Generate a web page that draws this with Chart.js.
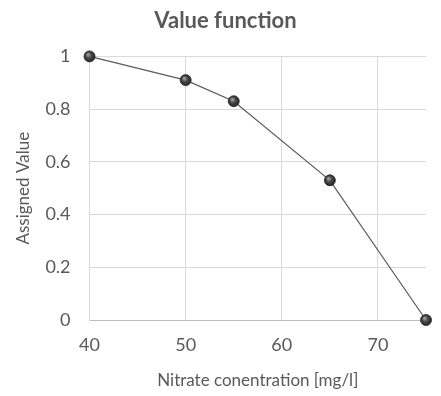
<!DOCTYPE html>
<html>
<head>
<meta charset="utf-8">
<script src="https://cdn.jsdelivr.net/npm/chart.js@4/dist/chart.umd.min.js"></script>
<style>
  html, body { margin: 0; padding: 0; background: #fff; }
  #wrap { width: 441px; height: 396px; }
</style>
</head>
<body>
<div id="wrap"><canvas id="c" width="441" height="396"></canvas></div>
<script>
// Nitrate concentration (mg/l) and the value assigned to it
const concentrations = [40, 50, 55, 65, 75];
const assignedValues = [1, 0.91, 0.83, 0.53, 0];
const xTickValues = [40, 50, 60, 70];
const yTickValues = [0, 0.2, 0.4, 0.6, 0.8, 1];

const FONT = "Lato, 'Open Sans', sans-serif";
const GREY = '#595959';

// Shaded marker: a small radial gradient centred slightly up-left of the point
function sphereFill(ctx) {
  const chart = ctx.chart;
  const sx = chart.scales.x, sy = chart.scales.y;
  if (!ctx.raw || !sx || !sy) return '#444';
  const px = sx.getPixelForValue(ctx.raw.x);
  const py = sy.getPixelForValue(ctx.raw.y);
  if (!isFinite(px) || !isFinite(py)) return '#444';
  const g = chart.ctx.createRadialGradient(px - 1.6, py - 2, 0.3, px, py, 6);
  g.addColorStop(0, '#a8a8a8');
  g.addColorStop(0.45, '#4a4a4a');
  g.addColorStop(1, '#1e1e1e');
  return g;
}

new Chart(document.getElementById('c'), {
  type: 'scatter',
  data: {
    datasets: [{
      data: concentrations.map((x, i) => ({ x, y: assignedValues[i] })),
      showLine: true,
      clip: false,
      borderColor: '#5a5a5a',
      borderWidth: 1.2,
      pointRadius: 5.5,
      pointHoverRadius: 5.5,
      pointBackgroundColor: sphereFill,
      pointBorderColor: '#262626',
      pointBorderWidth: 0.8
    }]
  },
  options: {
    responsive: false,
    animation: false,
    // the extra left padding keeps the main title centred a little right of the canvas middle
    layout: { padding: { top: 8, right: 15, left: 25, bottom: 5 } },
    plugins: {
      legend: { display: false },
      tooltip: { enabled: false },
      title: {
        display: true,
        text: 'Value function',
        color: GREY,
        font: { family: FONT, size: 22, weight: 'bold' },
        padding: { top: 0, bottom: 22 }
      }
    },
    scales: {
      x: {
        type: 'linear',
        min: 40,
        max: 75,
        afterBuildTicks: s => { s.ticks = xTickValues.map(v => ({ value: v })); },
        ticks: { color: GREY, font: { family: FONT, size: 18 }, padding: 14, callback: v => String(v) },
        grid: { color: '#d9d9d9', drawTicks: false },
        border: { color: '#bfbfbf' },
        title: {
          display: true,
          text: 'Nitrate conentration [mg/l]',
          color: GREY,
          font: { family: FONT, size: 17 },
          // tick padding is reserved on both sides of the labels, so pull the title back
          padding: { top: 1, bottom: 0 }
        }
      },
      y: {
        min: 0,
        max: 1,
        afterBuildTicks: s => { s.ticks = yTickValues.map(v => ({ value: v })); },
        ticks: { color: GREY, font: { family: FONT, size: 18 }, padding: 19, callback: v => String(+v.toFixed(1)) },
        grid: { color: '#d9d9d9', drawTicks: false },
        border: { color: '#d9d9d9' },
        title: {
          display: true,
          text: 'Assigned Value',
          color: GREY,
          font: { family: FONT, size: 17 },
          padding: { top: -12, bottom: -7 }
        }
      }
    }
  }
});
</script>
</body>
</html>
